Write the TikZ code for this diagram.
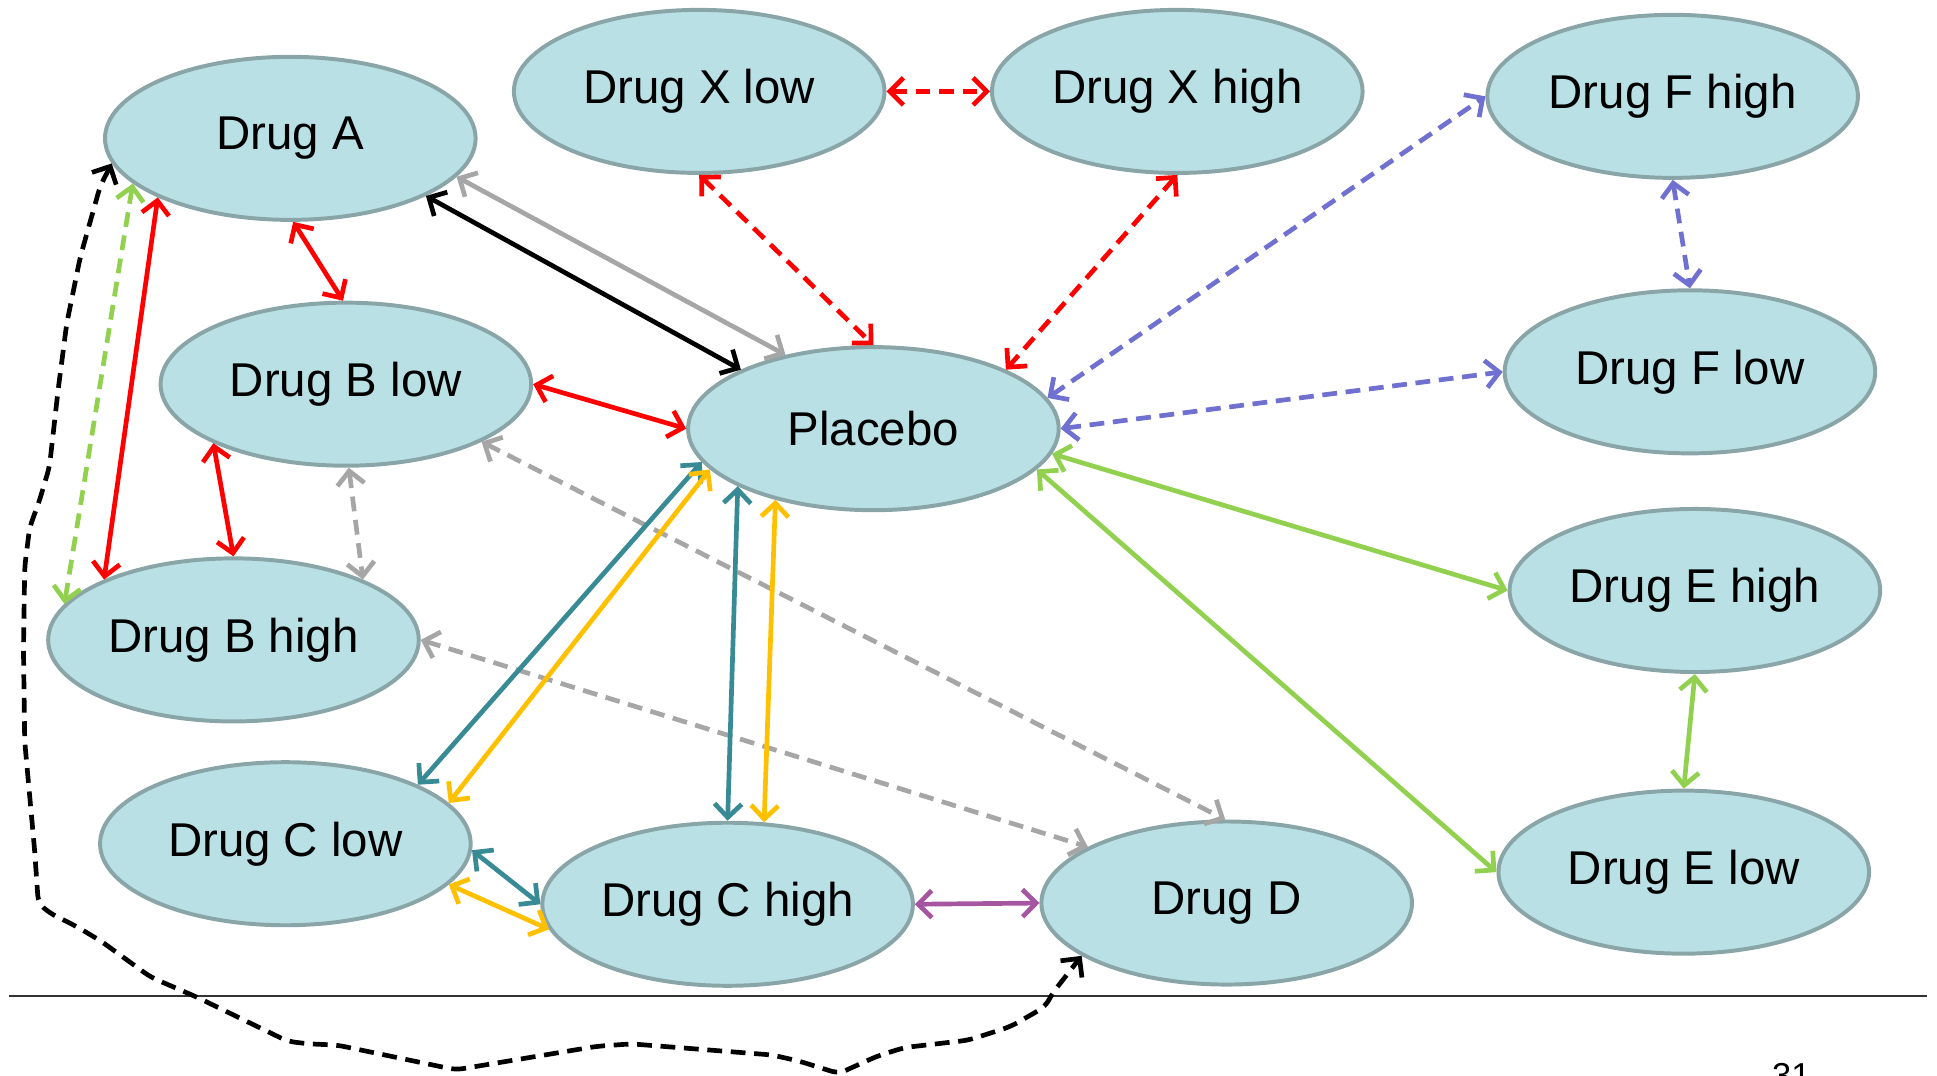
\documentclass[tikz,border=0pt]{standalone}
\usepackage{fontspec}
\setmainfont{Liberation Sans}
\usetikzlibrary{shapes.geometric,arrows.meta}
\definecolor{NodeFill}{RGB}{185,224,228}
\definecolor{NodeLine}{RGB}{138,165,168}
\definecolor{PurpleDash}{RGB}{112,112,208}
\definecolor{LeafGreen}{RGB}{146,208,80}
\definecolor{TealLine}{RGB}{56,138,148}
\definecolor{Amber}{RGB}{255,192,0}
\definecolor{Plum}{RGB}{166,85,160}
\definecolor{LightGray}{RGB}{166,166,166}
\begin{document}
\begin{tikzpicture}
  [x=0.5pt,y=-0.5pt,line width=1.9pt,<->,>={Straight Barb[length=5.5pt,width=11pt]},
   dashln/.style={dash pattern=on 6pt off 3.5pt},
   every node/.style={ellipse,draw=NodeLine,line width=1.6pt,fill=NodeFill,minimum width=150pt,
     minimum height=66pt,inner sep=0pt,font=\fontsize{19.2}{23}\selectfont}]
  \useasboundingbox (0,0) rectangle (1568,871);
  \node (na) at (235,112) {Drug A};
  \node (nxl) at (566,74) {Drug X low};
  \node (nxh) at (953,74) {Drug X high};
  \node (nfh) at (1354,78) {Drug F high};
  \node (nbl) at (280,311) {Drug B low};
  \node (np) at (707,347) {Placebo};
  \node (nfl) at (1368,301) {Drug F low};
  \node (nbh) at (189,518) {Drug B high};
  \node (neh) at (1372,478) {Drug E high};
  \node (ncl) at (231,683) {Drug C low};
  \node (nch) at (589,732) {Drug C high};
  \node (nd) at (993,731) {Drug D};
  \node (nel) at (1363,706) {Drug E low};

\node (pagenum) [rectangle,draw=none,fill=none,minimum width=0pt,minimum height=0pt,anchor=north,
  font=\fontsize{14}{16}\selectfont] at (1450,859) {31};
\coordinate (rulel) at (7,806);
\coordinate (ruler) at (1560,806);
\draw[-,line width=0.8pt,black!80] (rulel) -- (ruler);

% red
\draw[red,dashln] (nxl.east) -- (nxh.west);
\draw[red,dashln] (nxl.south) -- (np.north);
\draw[red,dashln] (nxh.south) -- (np.24);
\draw[red] (na.-88) -- (nbl.92);
\draw[red] (na.204) -- (nbh.155);
\draw[red] (nbl.east) -- (np.west);
\draw[red] (nbl.204) -- (nbh.north);

% purple
\draw[PurpleDash,dashln] (np.10.5) -- (nfh.west);
\draw[PurpleDash,dashln] (nfh.south) -- (nfl.north);
\draw[PurpleDash,dashln] (np.east) -- (nfl.west);

% green
\draw[LeafGreen] (np.-8) -- (neh.west);
\draw[LeafGreen] (np.-14.5) -- (nel.west);
\draw[LeafGreen] (neh.south) -- (nel.north);
\draw[LeafGreen,dashln] (na.196) -- (nbh.168);

% black and gray
\draw[black] (na.-23.5) -- (np.156);
\draw[LightGray] (na.-13.5) -- (np.140);
\draw[LightGray,dashln] (nbl.-88) -- (nbh.25);
\draw[LightGray,dashln] (nbl.-23) -- (nd.91);
\draw[LightGray,dashln] (nbh.east) -- (nd.158);

% drug C
\path[line width=1.9pt]
(ncl.24) edge [TealLine] (np.191)
(ncl.14) edge [Amber] (np.194)
(nch.north) edge [TealLine] (np.203)
(nch.66) edge [Amber] (np.216)
(ncl.-2) edge [TealLine] (nch.west)
(ncl.-14) edge [Amber] (nch.188)
(nch.east) edge [Plum] (nd.west);

\draw[black,dashln,rounded corners=3pt] (na.188) -- (81,151) -- (65,208) -- (54,262) -- (47,316)
  -- (40,378) -- (32,405) -- (24,427) -- (20,459) -- (19,526) -- (20,600) -- (28,688) -- (31,731)
  -- (40,739) -- (62,750) -- (82,762) -- (122,791) -- (159,807) -- (233,843) -- (250,845)
  -- (273,846) -- (369,866) -- (483,847) -- (511,845) -- (625,854) -- (647,859) -- (679,869)
  -- (710,855) -- (732,848) -- (784,842) -- (818,831) -- (846,815) -- (852,804) -- (nd.200);
\end{tikzpicture}
\end{document}
